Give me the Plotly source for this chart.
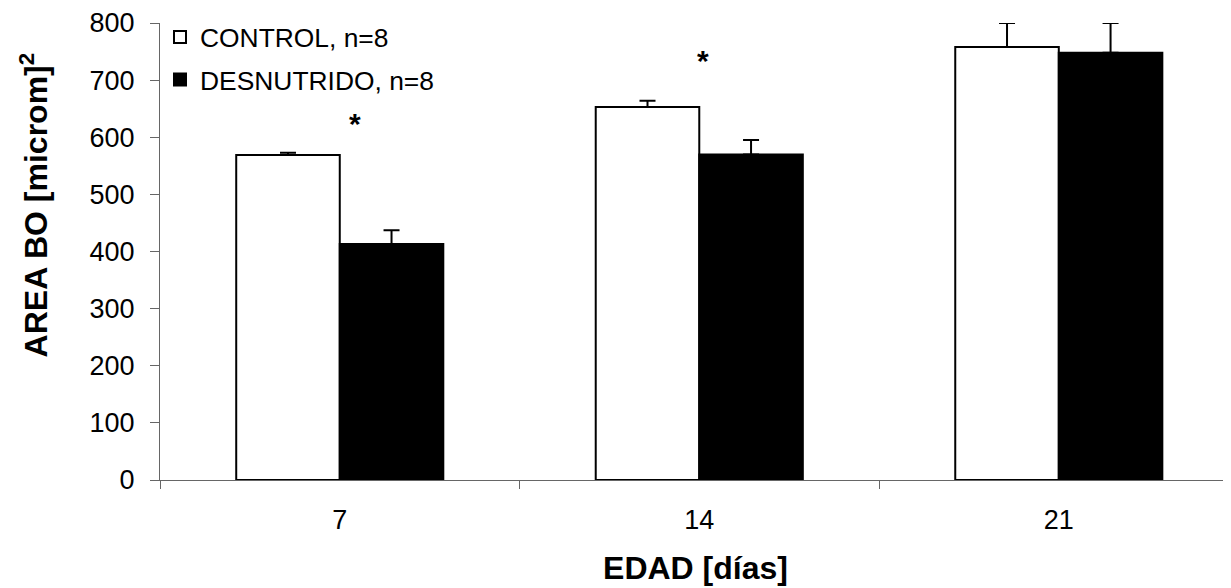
import plotly.graph_objects as go

# ---- data ----
edad = ["7", "14", "21"]
control = [569, 653, 758]
control_err = [4, 11, 42]
desnutrido = [413, 570, 748]
desnutrido_err = [24, 25, 52]
y_ticks = [0, 100, 200, 300, 400, 500, 600, 700, 800]
star_pos = [0.042, 1.011]
star_val = [624, 735]

FONT = "Liberation Sans, Arial, sans-serif"
AX = "#666666"
xpos = list(range(len(edad)))

fig = go.Figure()
fig.add_trace(go.Bar(
    x=xpos, y=control, name="CONTROL, n=8", legendgroup="a",
    marker=dict(color="white", line=dict(color="black", width=2)),
    error_y=dict(type="data", array=control_err, arrayminus=[0] * 3,
                 symmetric=False, color="black", thickness=2, width=8),
))
fig.add_trace(go.Bar(
    x=xpos, y=desnutrido, name="DESNUTRIDO, n=8", legendgroup="b",
    marker=dict(color="black", line=dict(color="black", width=2)),
    error_y=dict(type="data", array=desnutrido_err, arrayminus=[0] * 3,
                 symmetric=False, color="black", thickness=2, width=8),
))

for sx, sy in zip(star_pos, star_val):
    fig.add_annotation(x=sx, y=sy, xref="x", yref="y", text="<b>*</b>",
                       showarrow=False, font=dict(size=30, color="black", family=FONT),
                       xanchor="center", yanchor="middle")

fig.add_annotation(x=-0.1176, y=0.601, xref="paper", yref="paper",
                   text="<b>AREA BO [microm]<sup>2</sup></b>", textangle=-90,
                   showarrow=False, font=dict(size=32, color="black", family=FONT),
                   xanchor="center", yanchor="middle")

fig.update_layout(
    width=1223, height=580,
    margin=dict(l=152, r=0, t=13, b=108),
    paper_bgcolor="white", plot_bgcolor="white",
    font=dict(family=FONT, color="black", size=27),
    barmode="group", bargap=0.424, bargroupgap=0,
    showlegend=True,
    legend=dict(x=0.0, y=1.021, xanchor="left", yanchor="top",
                font=dict(size=26.4, family=FONT), bgcolor="rgba(0,0,0,0)",
                traceorder="grouped", tracegroupgap=5),
    xaxis=dict(
        range=[-0.5, 2.479], tickmode="array", tickvals=xpos, ticktext=edad,
        ticks="", ticklabelstandoff=16, showgrid=False, zeroline=False,
        showline=True, linecolor=AX, linewidth=1,
        minor=dict(tickmode="array", tickvals=[-0.5, 0.5, 1.5, 2.5],
                   ticks="outside", ticklen=8, tickcolor=AX, tickwidth=1, showgrid=False),
        title=dict(text="<b>EDAD [días]</b>", font=dict(size=32, family=FONT), standoff=22),
        fixedrange=True,
    ),
    yaxis=dict(
        range=[0, 800], tickmode="array", tickvals=y_ticks,
        ticks="outside", ticklen=9, tickcolor=AX, tickwidth=1,
        ticklabelstandoff=10, ticklabeloverflow="allow",
        showgrid=False, zeroline=False,
        showline=True, linecolor=AX, linewidth=1, fixedrange=True,
    ),
)

fig.write_html("out.html")
